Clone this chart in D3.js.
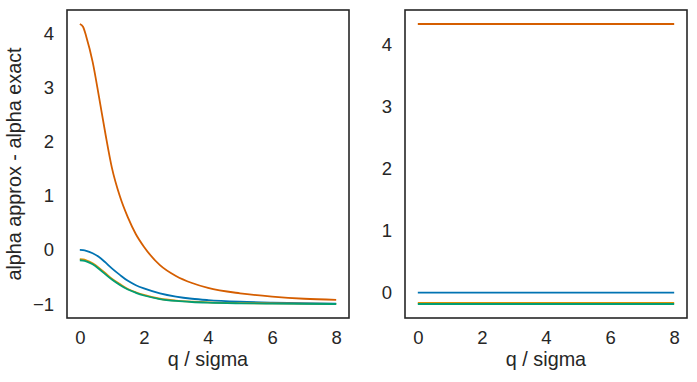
<!DOCTYPE html>
<meta charset="utf-8">
<style>
  body { margin: 0; background: #fff; }
  svg { font-family: "Liberation Sans", Arial, sans-serif; }
  .axis text { font-size: 18.5px; fill: #262626; }
  .axis .domain { display: none; }
  .frame { fill: none; stroke: #262626; stroke-width: 1.6px; }
  .line { fill: none; stroke-width: 1.8px; }
  .label { font-size: 19.8px; fill: #262626; }
</style>
<body>
<div id="chart"></div>
<script src="https://d3js.org/d3.v7.min.js"></script>
<script>
// q / sigma samples for the left panel
var qVals = [0, 0.1, 0.2, 0.4, 0.6, 0.8, 1, 1.25, 1.5, 1.75, 2, 2.5, 3, 3.5, 4, 5, 6, 7, 8];

// alpha approx - alpha exact
var blueVals   = [0.0, -0.004, -0.015, -0.06, -0.13, -0.23, -0.34, -0.46, -0.57, -0.65, -0.71, -0.80, -0.86, -0.90, -0.925, -0.955, -0.972, -0.983, -0.99];
var orangeVals = [-0.17, -0.175, -0.19, -0.245, -0.33, -0.43, -0.53, -0.63, -0.72, -0.78, -0.83, -0.90, -0.935, -0.955, -0.968, -0.98, -0.987, -0.99, -0.993];
var greenVals  = [-0.19, -0.195, -0.21, -0.265, -0.35, -0.45, -0.545, -0.645, -0.73, -0.79, -0.84, -0.905, -0.94, -0.96, -0.972, -0.984, -0.99, -0.994, -0.997];
var redVals    = [4.17, 4.12, 3.94, 3.47, 2.82, 2.14, 1.52, 0.99, 0.60, 0.29, 0.06, -0.28, -0.48, -0.61, -0.70, -0.80, -0.86, -0.90, -0.92];

// right panel: constant lines over q = 0..8
var qRange = [0, 8];
var flatVals = [0.0, -0.168, -0.185, 4.33];

var colors = ["#0173b2", "#de8f05", "#029e73", "#d55e00"];

var xTicks = [0, 2, 4, 6, 8];
var yTicksLeft = [-1, 0, 1, 2, 3, 4];
var yTicksRight = [0, 1, 2, 3, 4];

var W = 697, H = 382;
var svg = d3.select("#chart").append("svg")
  .attr("width", W)
  .attr("height", H);

function padded(ext) {
  var p = (ext[1] - ext[0]) * 0.05;
  return [ext[0] - p, ext[1] + p];
}

function panel(left, series, qs, yTicks, yLabel) {
  var top = 10, w = 282, h = 308;
  var g = svg.append("g").attr("transform", "translate(" + left + "," + top + ")");

  var x = d3.scaleLinear().domain(padded(d3.extent(qs))).range([0, w]);
  var allY = [].concat.apply([], series);
  var y = d3.scaleLinear().domain(padded(d3.extent(allY))).range([h, 0]);

  var line = d3.line()
    .x(function(d) { return x(d[0]); })
    .y(function(d) { return y(d[1]); })
    .curve(d3.curveMonotoneX);

  series.forEach(function(vals, i) {
    g.append("path")
      .attr("class", "line")
      .attr("d", line(qs.map(function(q, j) { return [q, vals[j]]; })))
      .style("stroke", colors[i]);
  });

  g.append("g")
    .attr("class", "x axis")
    .attr("transform", "translate(0," + h + ")")
    .call(d3.axisBottom(x).tickValues(xTicks).tickSize(0).tickPadding(13).tickFormat(d3.format("d")));

  g.append("g")
    .attr("class", "y axis")
    .call(d3.axisLeft(y).tickValues(yTicks).tickSize(0).tickPadding(13).tickFormat(d3.format("d")));

  g.append("rect")
    .attr("class", "frame")
    .attr("width", w)
    .attr("height", h);

  g.append("text")
    .attr("class", "label")
    .attr("x", w / 2)
    .attr("y", 356)
    .attr("text-anchor", "middle")
    .text("q / sigma");

  if (yLabel) {
    g.append("text")
      .attr("class", "label")
      .attr("transform", "translate(" + (21 - left) + "," + (h / 2) + ") rotate(-90)")
      .attr("text-anchor", "middle")
      .text(yLabel);
  }
}

panel(67, [blueVals, orangeVals, greenVals, redVals], qVals, yTicksLeft, "alpha approx - alpha exact");

var flatSeries = flatVals.map(function(v) { return qRange.map(function() { return v; }); });
panel(405, flatSeries, qRange, yTicksRight, null);
</script>
</body>
